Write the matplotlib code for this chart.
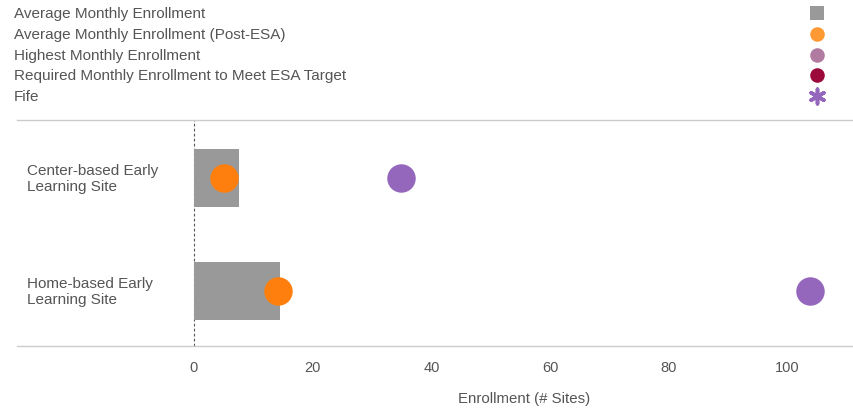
import matplotlib.pyplot as plt
import numpy as np

plt.rcParams['font.family'] = ['Liberation Sans', 'DejaVu Sans']

categories = ['Center-based Early\nLearning Site', 'Home-based Early\nLearning Site']
avg_enrollment = [7.6, 14.5]
avg_post_esa = [5.05, 14.15]
fife = [34.9, 103.8]

legend_labels = ['Average Monthly Enrollment', 'Average Monthly Enrollment (Post-ESA)',
                 'Highest Monthly Enrollment', 'Required Monthly Enrollment to Meet ESA Target',
                 'Fife']
legend_markers = ['s', 'o', 'o', 'o', (6, 2, 0)]
legend_colors = ['#999999', '#ff9933', '#b07aa1', '#9c0a3c', '#9467bd']

text_color = '#555555'

fig = plt.figure(figsize=(8.54, 4.1), dpi=100)

# plot area
ax = fig.add_axes([17 / 854, 1 - 347 / 410, 837 / 854, 226 / 410])
y = np.arange(len(categories))
ax.barh(y, avg_enrollment, height=0.51, color='#999999', zorder=2)
ax.scatter(avg_post_esa, y, s=420, color='#ff7f0e', zorder=3, linewidths=0)
ax.scatter(fife, y, s=420, color='#9467bd', zorder=3, linewidths=0)
ax.axvline(0, color='#555555', linestyle=(0, (2.5, 2)), linewidth=0.8, zorder=1)

ax.set_xlim(-29.8, 111.2)
ax.set_ylim(1.487, -0.513)
ax.set_xticks([0, 20, 40, 60, 80, 100])
ax.tick_params(axis='x', length=0, pad=10, labelsize=10.5, labelcolor=text_color)
ax.set_yticks([])
for s in ['left', 'right']:
    ax.spines[s].set_visible(False)
for s in ['top', 'bottom']:
    ax.spines[s].set_color('#cccccc')
    ax.spines[s].set_linewidth(1)
ax.set_xlabel('Enrollment (# Sites)', fontsize=10.8, color=text_color)
# label centred over the data part of the axis (0 .. right edge)
ax.xaxis.set_label_coords((0 + 29.8) / (111.2 + 29.8) / 2 + 0.5, -0.2)
for yi, cat in zip(y, categories):
    ax.text(0.012, yi, cat, transform=ax.get_yaxis_transform(), ha='left', va='center',
            fontsize=11, color=text_color, linespacing=1.2)

# legend area
lax = fig.add_axes([0, 1 - 110 / 410, 1, 110 / 410])
lax.set_xlim(0, 854)
lax.set_ylim(110, 0)
lax.axis('off')
for i, (lab, m, c) in enumerate(zip(legend_labels, legend_markers, legend_colors)):
    yy = 14 + i * 20.8
    lax.text(14, yy, lab, ha='left', va='center', fontsize=11, color=text_color)
    if m == 's':
        lax.scatter([817], [yy], marker=m, s=95, color=c, linewidths=0)
    elif m == 'o':
        lax.scatter([817], [yy], marker=m, s=110, color=c, linewidths=0)
    else:
        lax.scatter([817], [yy], marker=m, s=110, color=c, linewidths=2.6)

fig.savefig('out.png', dpi=100)
